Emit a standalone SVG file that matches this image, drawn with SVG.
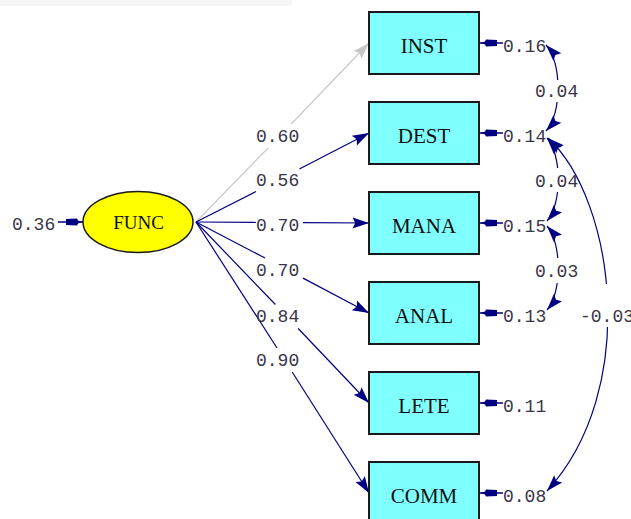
<svg xmlns="http://www.w3.org/2000/svg" width="631" height="519" viewBox="0 0 631 519">
  <style>
    .obs rect { fill: #80ffff; stroke: #1a1a1a; stroke-width: 2; }
    .lat ellipse { fill: #ffff00; stroke: #1a1a1a; stroke-width: 1.5; }
    .name { font-family: "Liberation Serif", "DejaVu Serif", serif; fill: #111; text-anchor: middle; }
    .num { font-family: "Liberation Mono", "DejaVu Sans Mono", monospace; font-size: 18px; fill: #3a3448; }
    .path { stroke: #000080; stroke-width: 1.2; fill: none; }
    .path.grey { stroke: #c8c8c8; }
    .err { stroke: #000080; stroke-width: 1.5; fill: none; marker-end: url(#errHead); }
    .cov { stroke: #000080; stroke-width: 1.2; fill: none; marker-start: url(#head); marker-end: url(#head); }
    .gap { fill: #ffffff; }
  </style>
  <defs>
    <marker id="head" markerUnits="userSpaceOnUse" markerWidth="22" markerHeight="22" refX="0" refY="0" viewBox="-18 -9 20 18" orient="auto-start-reverse">
      <path d="M0,0 L-15,-5 L-12.5,0 L-15,5 Z" fill="#000080"/>
    </marker>
    <marker id="headGrey" markerUnits="userSpaceOnUse" markerWidth="22" markerHeight="22" refX="0" refY="0" viewBox="-18 -9 20 18" orient="auto">
      <path d="M0,0 L-15,-5 L-12.5,0 L-15,5 Z" fill="#c8c8c8"/>
    </marker>
    <marker id="errHead" markerUnits="userSpaceOnUse" markerWidth="24" markerHeight="12" refX="0" refY="0" viewBox="-20 -6 22 12" orient="auto">
      <path d="M0,0 L-5,-1.4 L-6,-3.4 L-17,-3 L-17,3 L-6,3.4 L-5,1.4 Z" fill="#000080"/>
    </marker>
  </defs>

  <rect width="631" height="519" fill="#ffffff"/>
  <!-- faint band along the top edge -->
  <rect x="0" y="0" width="292" height="6" fill="#f5f5f5"/>

  <!-- connectors -->
  <g id="connectors">
    <!-- loadings from FUNC, broken where the values sit -->
    <path class="path grey" d="M196,222 L268.1,148"/>
    <path class="path grey" d="M291.2,124 L369,43" marker-end="url(#headGrey)"/>
    <path class="path" d="M196,222 L256,191.5"/>
    <path class="path" d="M299.4,169 L369,133" marker-end="url(#head)"/>
    <path class="path" d="M196,222 L256,222.3"/>
    <path class="path" d="M303,222.6 L369,223" marker-end="url(#head)"/>
    <path class="path" d="M196,222 L265,258"/>
    <path class="path" d="M303,278.1 L369,313" marker-end="url(#head)"/>
    <path class="path" d="M196,222 L275.4,304.5"/>
    <path class="path" d="M298.2,328.5 L369,403" marker-end="url(#head)"/>
    <path class="path" d="M196,222 L277,348"/>
    <path class="path" d="M292.2,372 L369,493" marker-end="url(#head)"/>

    <!-- error terms -->
    <path class="err" d="M58,222 L83,222"/>
    <path class="err" d="M503,43 L480,43"/>
    <path class="err" d="M503,133 L480,133"/>
    <path class="err" d="M503,223 L480,223"/>
    <path class="err" d="M503,313 L480,313"/>
    <path class="err" d="M503,403 L480,403"/>
    <path class="err" d="M503,493 L480,493"/>

    <!-- error covariances -->
    <path class="cov" d="M546,45 C562,62 562,114 546,131"/>
    <path class="cov" d="M547,138 C562,155 562,204 547,221"/>
    <path class="cov" d="M547,226 C562,243 562,293 547,310"/>
    <rect class="gap" x="535" y="80" width="45" height="22"/>
    <rect class="gap" x="535" y="168" width="44" height="24"/>
    <rect class="gap" x="535" y="258" width="45" height="25"/>
    <path class="cov" d="M548,138 C615,200 640,390 547,491"/>
    <rect class="gap" x="580" y="284" width="51" height="43"/>
  </g>

  <!-- values -->
  <g id="values">
    <text class="num" x="256" y="141.5">0.60</text>
    <text class="num" x="256" y="186">0.56</text>
    <text class="num" x="256" y="230.5">0.70</text>
    <text class="num" x="256" y="276">0.70</text>
    <text class="num" x="256" y="321.5">0.84</text>
    <text class="num" x="256" y="366">0.90</text>
    <text class="num" x="12" y="230">0.36</text>
    <text class="num" x="503" y="52">0.16</text>
    <text class="num" x="503" y="142">0.14</text>
    <text class="num" x="503" y="231.5">0.15</text>
    <text class="num" x="503" y="321.5">0.13</text>
    <text class="num" x="503" y="411.5">0.11</text>
    <text class="num" x="503" y="502">0.08</text>
    <text class="num" x="535" y="97">0.04</text>
    <text class="num" x="535" y="187">0.04</text>
    <text class="num" x="535" y="277">0.03</text>
    <text class="num" x="580" y="322">-0.03</text>
  </g>

  <!-- latent variable -->
  <g id="FUNC" class="lat">
    <ellipse cx="138" cy="222" rx="55" ry="30.5"/>
    <text class="name" x="138.5" y="229" font-size="19">FUNC</text>
  </g>

  <!-- observed variables -->
  <g id="INST" class="obs">
    <rect x="369" y="12" width="110" height="62"/>
    <text class="name" x="424" y="53" font-size="21">INST</text>
  </g>
  <g id="DEST" class="obs">
    <rect x="369" y="102" width="110" height="62"/>
    <text class="name" x="424" y="143" font-size="21">DEST</text>
  </g>
  <g id="MANA" class="obs">
    <rect x="369" y="192" width="110" height="62"/>
    <text class="name" x="424" y="233" font-size="21">MANA</text>
  </g>
  <g id="ANAL" class="obs">
    <rect x="369" y="282" width="110" height="62"/>
    <text class="name" x="424" y="323" font-size="21">ANAL</text>
  </g>
  <g id="LETE" class="obs">
    <rect x="369" y="372" width="110" height="62"/>
    <text class="name" x="424" y="413" font-size="21">LETE</text>
  </g>
  <g id="COMM" class="obs">
    <rect x="369" y="462" width="110" height="62"/>
    <text class="name" x="424" y="503" font-size="21">COMM</text>
  </g>
</svg>
